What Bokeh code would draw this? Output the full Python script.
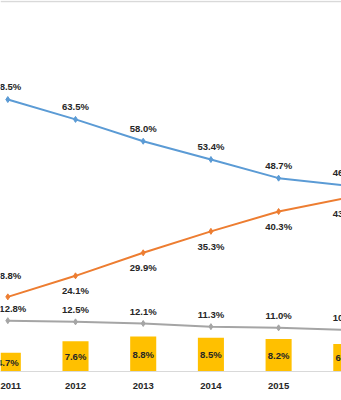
from bokeh.plotting import figure
from bokeh.models import ColumnDataSource, FixedTicker, Range1d, Span
from bokeh.core.properties import value
from bokeh.embed import file_html
from bokeh.resources import INLINE

years = [2011, 2012, 2013, 2014, 2015, 2016]
year_labels = ["2011", "2012", "2013", "2014", "2015", "2016"]
blue_vals = [68.5, 63.5, 58.0, 53.4, 48.7, 46.8]
orange_vals = [18.8, 24.1, 29.9, 35.3, 40.3, 43.7]
gray_vals = [12.8, 12.5, 12.1, 11.3, 11.0, 10.5]
bar_vals = [4.7, 7.6, 8.8, 8.5, 8.2, 6.9]

BLUE = "#5B9BD5"
ORANGE = "#ED7D31"
GRAY = "#A5A5A5"
GOLD = "#FFC000"
TXT = "#262626"
FONT = value("Liberation Sans")

def lbl(v):
    return [f"{x:.1f}%" for x in v]

src = ColumnDataSource(dict(
    x=years,
    blue=blue_vals, orange=orange_vals, gray=gray_vals, bar=bar_vals,
    blue_l=lbl(blue_vals), orange_l=lbl(orange_vals),
    gray_l=lbl(gray_vals), bar_l=lbl(bar_vals),
    bar_mid=[b / 2 for b in bar_vals],
    orange_off=[-21] + [15] * 5,
    gray_xoff=[5] + [0] * 5,
))

p = figure(width=341, height=400, output_backend="svg", toolbar_location=None,
           x_range=Range1d(2010.892, 2015.929), y_range=Range1d(0, 93.45),
           min_border_left=0, min_border_right=0, min_border_top=0,
           min_border_bottom=29)
p.outline_line_color = None
p.xgrid.visible = False
p.ygrid.visible = False
p.yaxis.visible = False
p.background_fill_color = "white"
p.border_fill_color = "white"

ax = p.xaxis[0]
ax.ticker = FixedTicker(ticks=years)
ax.major_label_overrides = {y: s for y, s in zip(years, year_labels)}
ax.axis_line_color = "#D9D9D9"
ax.major_tick_line_color = None
ax.minor_tick_line_color = None
ax.major_label_standoff = 5
ax.major_label_text_font = "Liberation Sans"
ax.major_label_text_font_style = "bold"
ax.major_label_text_font_size = "9.5px"
ax.major_label_text_color = TXT

p.add_layout(Span(location=93.2, dimension="width", line_color="#D9D9D9", line_width=1.5))

p.vbar(x="x", top="bar", bottom=0, width=0.385, source=src, fill_color=GOLD, line_color=None)

for col, color in [("blue", BLUE), ("orange", ORANGE), ("gray", GRAY)]:
    p.line(x="x", y=col, source=src, line_color=color, line_width=2)
    p.scatter(x="x", y=col, source=src, marker="diamond", size=6,
              fill_color=color, line_color=color)

common = dict(text_font=FONT, text_font_style="bold", text_font_size="9.5px",
              text_color=TXT, text_align="center", text_baseline="middle", source=src)
p.text(x="x", y="blue", text="blue_l", y_offset=-13, **common)
p.text(x="x", y="orange", text="orange_l", y_offset="orange_off", **common)
p.text(x="x", y="gray", text="gray_l", y_offset=-12, x_offset="gray_xoff", **common)
p.text(x="x", y="bar_mid", text="bar_l", **common)

open("out.html", "w").write(file_html(p, INLINE))
